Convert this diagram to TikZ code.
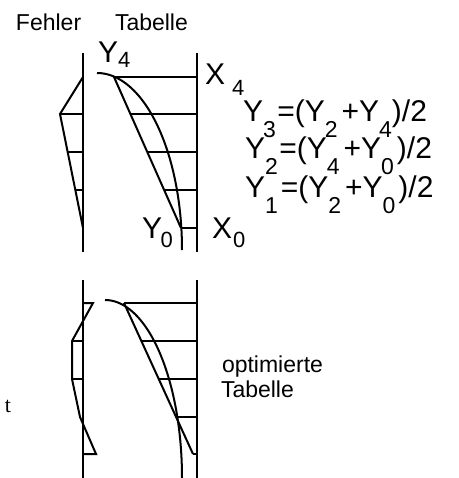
\documentclass[tikz,border=0pt]{standalone}
\usepackage{fontspec}
\setmainfont{Liberation Sans}
\newfontfamily\serifface{Liberation Serif}
\newcommand\dn[1]{\raisebox{-16pt}{\fontsize{23}{23}\selectfont #1}}
\begin{document}
\begin{tikzpicture}[x=1pt,y=-1pt, line width=2pt, line join=miter,
  lbl/.style={inner sep=0pt, anchor=base west, font=\fontsize{23}{23}\selectfont},
  big/.style={inner sep=0pt, anchor=base west, font=\fontsize{30}{30}\selectfont},
  subs/.style={inner sep=0pt, anchor=base west, font=\fontsize{22}{22}\selectfont},
  serift/.style={inner sep=0pt, anchor=base west, font=\serifface\fontsize{22}{22}\selectfont}]
\path[use as bounding box] (0,0) rectangle (458,478);

% ---------- upper diagram ----------
\coordinate (uLT) at (83,53);   \coordinate (uLB) at (83,252);
\coordinate (uRT) at (196.5,53); \coordinate (uRB) at (196.5,252);
\draw (uLT) -- (uLB);
\draw (uRT) -- (uRB);
\foreach \y/\x in {77/114,114/130.4,152/147.3,190/164.1,228/181}
  \draw (\x,\y) -- (196.5,\y);
\coordinate (uS1) at (114,77); \coordinate (uS2) at (181,228);
\draw (uS1) -- (uS2);
\draw plot[domain=0:90, samples=60, smooth] ({97+85*sin(\x)},{250-177*cos(\x)});
% error
\coordinate (uE0) at (83,77); \coordinate (uE1) at (60,114); \coordinate (uE2) at (83,228);
\draw (uE0) -- (uE1) -- (uE2);
\draw (60,114) -- (83,114);
\draw (67.7,152) -- (83,152);
\draw (75.3,190) -- (83,190);

% ---------- lower diagram ----------
\coordinate (lLT) at (83,280);   \coordinate (lLB) at (83,478);
\coordinate (lRT) at (196.5,280); \coordinate (lRB) at (196.5,478);
\draw (lLT) -- (lLB);
\draw (lRT) -- (lRB);
\foreach \y/\x in {303/124,341/141.4,379/158.7,417/176,454/193}
  \draw (\x,\y) -- (196.5,\y);
\coordinate (lS1) at (124,303); \coordinate (lS2) at (193,454);
\draw (lS1) -- (lS2);
\draw plot[domain=0:90, samples=60, smooth] ({105+77*sin(\x)},{478-178*cos(\x)});
% error
\draw (83,303) -- (93,303) -- (72,341) -- (72,379) -- (80,417) -- (96,454) -- (83,454);
\draw (72,341) -- (83,341);
\draw (72,379) -- (83,379);

% ---------- texts ----------
\node[lbl] (fehler) at (15,31) {Fehler};
\node[lbl] (tabelle) at (114,31) {Tabelle};
\node[big] (y4) at (97,63) {Y};     \node[subs] (y4s) at (117,68) {4};
\node[big] (x4) at (204,85) {X};    \node[subs] (x4s) at (231,96) {4};
\node[big] (y0) at (141,238) {Y};   \node[subs] (y0s) at (159.5,247) {0};
\node[big] (x0) at (211,238) {X};   \node[subs] (x0s) at (232,247) {0};
\node[big] (eq3) at (242,122) {Y\dn{3}\hspace{1.5pt}=(Y\dn{2}\hspace{4pt}+Y\dn{4})/2};
\node[big] (eq2) at (244,159) {Y\dn{2}\hspace{1.5pt}=(Y\dn{4}\hspace{4pt}+Y\dn{0}\hspace{3pt})/2};
\node[big] (eq1) at (244,197) {Y\dn{1}\hspace{3pt}=(Y\dn{2}\hspace{4pt}+Y\dn{0}\hspace{3pt})/2};
\node[lbl] (opt1) at (221,372) {optimierte};
\node[lbl] (opt2) at (220,397) {Tabelle};
\node[serift] (tt) at (4,412) {t};
\end{tikzpicture}
\end{document}
